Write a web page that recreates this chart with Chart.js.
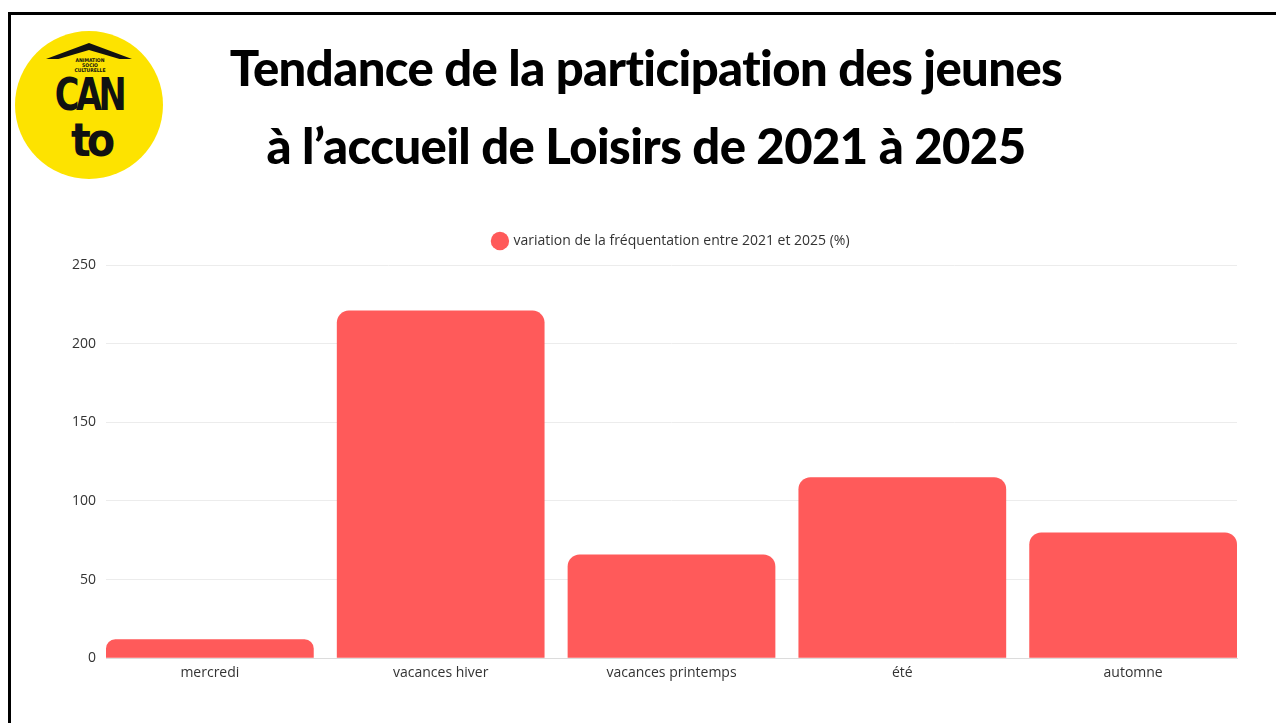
<!DOCTYPE html>
<html><head><meta charset="utf-8">
<script src="https://cdn.jsdelivr.net/npm/chart.js"></script>
<style>
html,body{margin:0;padding:0;background:#fff;width:1276px;height:723px;overflow:hidden;}
#frame{position:absolute;left:8px;top:12px;width:1300px;height:800px;border-left:3px solid #000;border-top:3px solid #000;}
#title{position:absolute;left:0;top:28px;width:1292px;text-align:center;font-family:"Lato","Open Sans",sans-serif;font-weight:900;font-size:49px;line-height:78px;color:#000;letter-spacing:-0.6px;}
#logo{position:absolute;left:15px;top:31px;width:148px;height:148px;border-radius:50%;background:#fde300;overflow:hidden;}
#roof{position:absolute;left:31px;top:12px;width:0;height:0;border-left:43px solid transparent;border-right:43px solid transparent;border-bottom:16px solid #111;}
#roof2{position:absolute;left:40px;top:19px;width:0;height:0;border-left:34px solid transparent;border-right:34px solid transparent;border-bottom:10px solid #fde300;}
#small{position:absolute;left:45px;top:27px;width:60px;text-align:center;font-family:"DejaVu Sans Condensed","DejaVu Sans",sans-serif;font-weight:bold;font-size:5px;line-height:5px;color:#111;}
#can{position:absolute;left:28px;top:42px;width:92px;text-align:center;font-family:"DejaVu Sans Condensed","DejaVu Sans",sans-serif;font-weight:bold;font-size:44px;line-height:44px;color:#111;letter-spacing:-4px;transform:scaleX(0.85);}
#to{position:absolute;left:36px;top:86px;width:80px;text-align:center;font-family:"DejaVu Sans Condensed","DejaVu Sans",sans-serif;font-weight:bold;font-size:46px;line-height:46px;color:#111;letter-spacing:-4px;}
#wrap{position:absolute;left:0;top:0;width:1276px;height:723px;}
</style></head>
<body>
<div id="frame"></div>
<div id="logo"><div id="roof"></div><div id="roof2"></div><div id="small">ANIMATION<br>SOCIO<br>CULTURELLE</div><div id="can">CAN</div><div id="to">to</div></div>
<div id="title">Tendance de la participation des jeunes<br>à l’accueil de Loisirs de 2021 à 2025</div>
<div id="wrap"><canvas id="c" width="1276" height="723" style="width:1276px;height:723px"></canvas></div>
<script>
const categories = ["mercredi", "vacances hiver", "vacances printemps", "été", "automne"];
const seriesLabel = "variation de la fréquentation entre 2021 et 2025 (%)";
const values = [12, 221, 66, 115, 80];
const yTicks = [0, 50, 100, 150, 200, 250];

const BAR_PCT = 0.9;
const points = values.map((v, i) => ({x: i, y: v}));

const legendSpace = {
  id: 'legendSpace',
  beforeInit(chart) {
    const origFit = chart.legend.fit;
    chart.legend.fit = function () {
      origFit.bind(chart.legend)();
      this.height += 7;
    };
  },
  afterLayout(chart) {
    // center the legend over the plot area
    const lg = chart.legend;
    lg.left = chart.chartArea.left;
    lg.right = chart.chartArea.right;
    lg.width = lg.right - lg.left;
  }
};

new Chart(document.getElementById('c'), {
  type: 'bar',
  data: {
    datasets: [{
      label: seriesLabel,
      data: points,
      backgroundColor: '#ff5a5a',
      borderWidth: 0,
      borderRadius: {topLeft: 12, topRight: 12, bottomLeft: 0, bottomRight: 0},
      borderSkipped: 'bottom',
      categoryPercentage: 1.0,
      barPercentage: BAR_PCT
    }]
  },
  plugins: [legendSpace],
  options: {
    responsive: false,
    animation: false,
    maintainAspectRatio: false,
    devicePixelRatio: 1,
    layout: {padding: {top: 224, left: 40, right: 39, bottom: 36}},
    plugins: {
      legend: {
        display: true,
        position: 'top',
        labels: {
          usePointStyle: true,
          pointStyle: 'circle',
          boxWidth: 13, boxHeight: 13,
          padding: 10,
          color: '#333',
          font: {family: '"Open Sans", sans-serif', size: 14}
        }
      },
      tooltip: {enabled: false}
    },
    scales: {
      x: {
        type: 'linear',
        offset: false,
        min: -BAR_PCT / 2,
        max: categories.length - 1 + BAR_PCT / 2,
        afterBuildTicks: (axis) => { axis.ticks = categories.map((c, i) => ({value: i})); },
        grid: {display: false, drawTicks: false},
        border: {display: true, color: '#dcdcdc', width: 1},
        ticks: {
          color: '#333', padding: 6, autoSkip: false, maxRotation: 0,
          font: {family: '"Open Sans", sans-serif', size: 14},
          callback: (v) => categories[v]
        }
      },
      y: {
        min: 0, max: 250,
        afterBuildTicks: (axis) => { axis.ticks = yTicks.map(v => ({value: v})); },
        afterFit: (axis) => { axis.width = 66; },
        grid: {color: '#ececec', drawTicks: false},
        border: {display: false},
        ticks: {color: '#333', padding: 10, font: {family: '"Open Sans", sans-serif', size: 14}}
      }
    }
  }
});
</script>
</body></html>
